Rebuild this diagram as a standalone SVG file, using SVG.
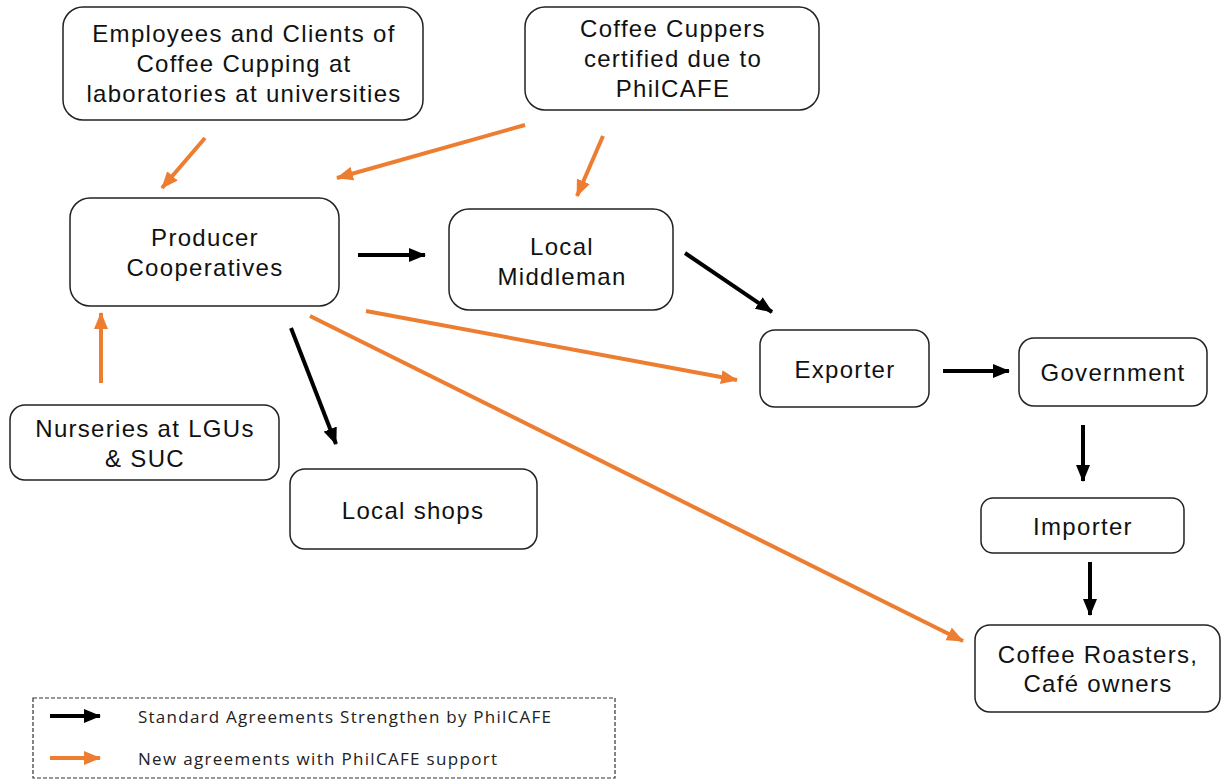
<svg xmlns="http://www.w3.org/2000/svg" width="1221" height="780" viewBox="0 0 1221 780">
<style>
.box{fill:#fff;stroke:#222;stroke-width:1.5}
.t{font-family:"Liberation Sans",Arial,sans-serif;font-size:24px;letter-spacing:1.3px;fill:#111;text-anchor:middle}
.lg{font-family:"Open Sans","Liberation Sans",sans-serif;font-size:17px;fill:#222}
.ob{stroke:#ED7D31;stroke-width:4;fill:none;marker-end:url(#ao)}
.bk{stroke:#000;stroke-width:4;fill:none;marker-end:url(#ab)}
</style>
<defs>
<marker id="ao" markerUnits="userSpaceOnUse" markerWidth="17" markerHeight="14" refX="16" refY="7" orient="auto"><path d="M0,0 L17,7 L0,14 z" fill="#ED7D31"/></marker>
<marker id="ab" markerUnits="userSpaceOnUse" markerWidth="17" markerHeight="14" refX="16" refY="7" orient="auto"><path d="M0,0 L17,7 L0,14 z" fill="#000"/></marker>
</defs>
<rect width="1221" height="780" fill="#fff"/>
<g id="n-employees"><rect class="box" x="63" y="7" width="360" height="113" rx="20"/><text class="t" x="244" y="42">Employees and Clients of</text><text class="t" x="244" y="72">Coffee Cupping at</text><text class="t" x="244" y="102">laboratories at universities</text></g>
<g id="n-cuppers"><rect class="box" x="525" y="7" width="294" height="103" rx="20"/><text class="t" x="673" y="37">Coffee Cuppers</text><text class="t" x="673" y="67">certified due to</text><text class="t" x="673" y="97">PhilCAFE</text></g>
<g id="n-producer"><rect class="box" x="70" y="198" width="269" height="108" rx="20"/><text class="t" x="205" y="246">Producer</text><text class="t" x="205" y="276">Cooperatives</text></g>
<g id="n-middleman"><rect class="box" x="449" y="209" width="224" height="101" rx="20"/><text class="t" x="562" y="255">Local</text><text class="t" x="562" y="285">Middleman</text></g>
<g id="n-exporter"><rect class="box" x="760" y="330" width="169" height="77" rx="15"/><text class="t" x="845" y="378">Exporter</text></g>
<g id="n-government"><rect class="box" x="1019" y="338" width="188" height="68" rx="15"/><text class="t" x="1113" y="381">Government</text></g>
<g id="n-nurseries"><rect class="box" x="10" y="405" width="269" height="75" rx="15"/><text class="t" x="145" y="437">Nurseries at LGUs</text><text class="t" x="145" y="467">&amp; SUC</text></g>
<g id="n-shops"><rect class="box" x="290" y="469" width="247" height="80" rx="15"/><text class="t" x="413" y="519">Local shops</text></g>
<g id="n-importer"><rect class="box" x="981" y="498" width="203" height="55" rx="12"/><text class="t" x="1083" y="535">Importer</text></g>
<g id="n-roasters"><rect class="box" x="975" y="625" width="245" height="87" rx="15"/><text class="t" x="1098" y="663">Coffee Roasters,</text><text class="t" x="1098" y="692">Café owners</text></g>
<g id="connectors">
<line class="ob" x1="205" y1="138" x2="162" y2="188"/>
<line class="ob" x1="525" y1="125" x2="337" y2="178"/>
<line class="ob" x1="603" y1="136" x2="577" y2="196"/>
<line class="ob" x1="101" y1="383" x2="101" y2="313"/>
<line class="bk" x1="358" y1="255" x2="425" y2="255"/>
<line class="bk" x1="685" y1="253" x2="772" y2="312"/>
<line class="ob" x1="366" y1="311" x2="737" y2="380"/>
<line class="ob" x1="310" y1="316" x2="963" y2="641"/>
<line class="bk" x1="291" y1="328" x2="336" y2="444"/>
<line class="bk" x1="943" y1="371" x2="1009" y2="371"/>
<line class="bk" x1="1083" y1="425" x2="1083" y2="481"/>
<line class="bk" x1="1090" y1="562" x2="1090" y2="615"/>
</g>
<g id="legend">
<rect x="33" y="698" width="582" height="80" fill="none" stroke="#333" stroke-width="1.2" stroke-dasharray="4,2"/>
<line class="bk" x1="50" y1="716" x2="100" y2="716"/>
<text class="lg" x="138" y="723" textLength="413" lengthAdjust="spacing">Standard Agreements Strengthen by PhilCAFE</text>
<line class="ob" x1="50" y1="758" x2="100" y2="758"/>
<text class="lg" x="138" y="765" textLength="359" lengthAdjust="spacing">New agreements with PhilCAFE support</text>
</g>
</svg>
